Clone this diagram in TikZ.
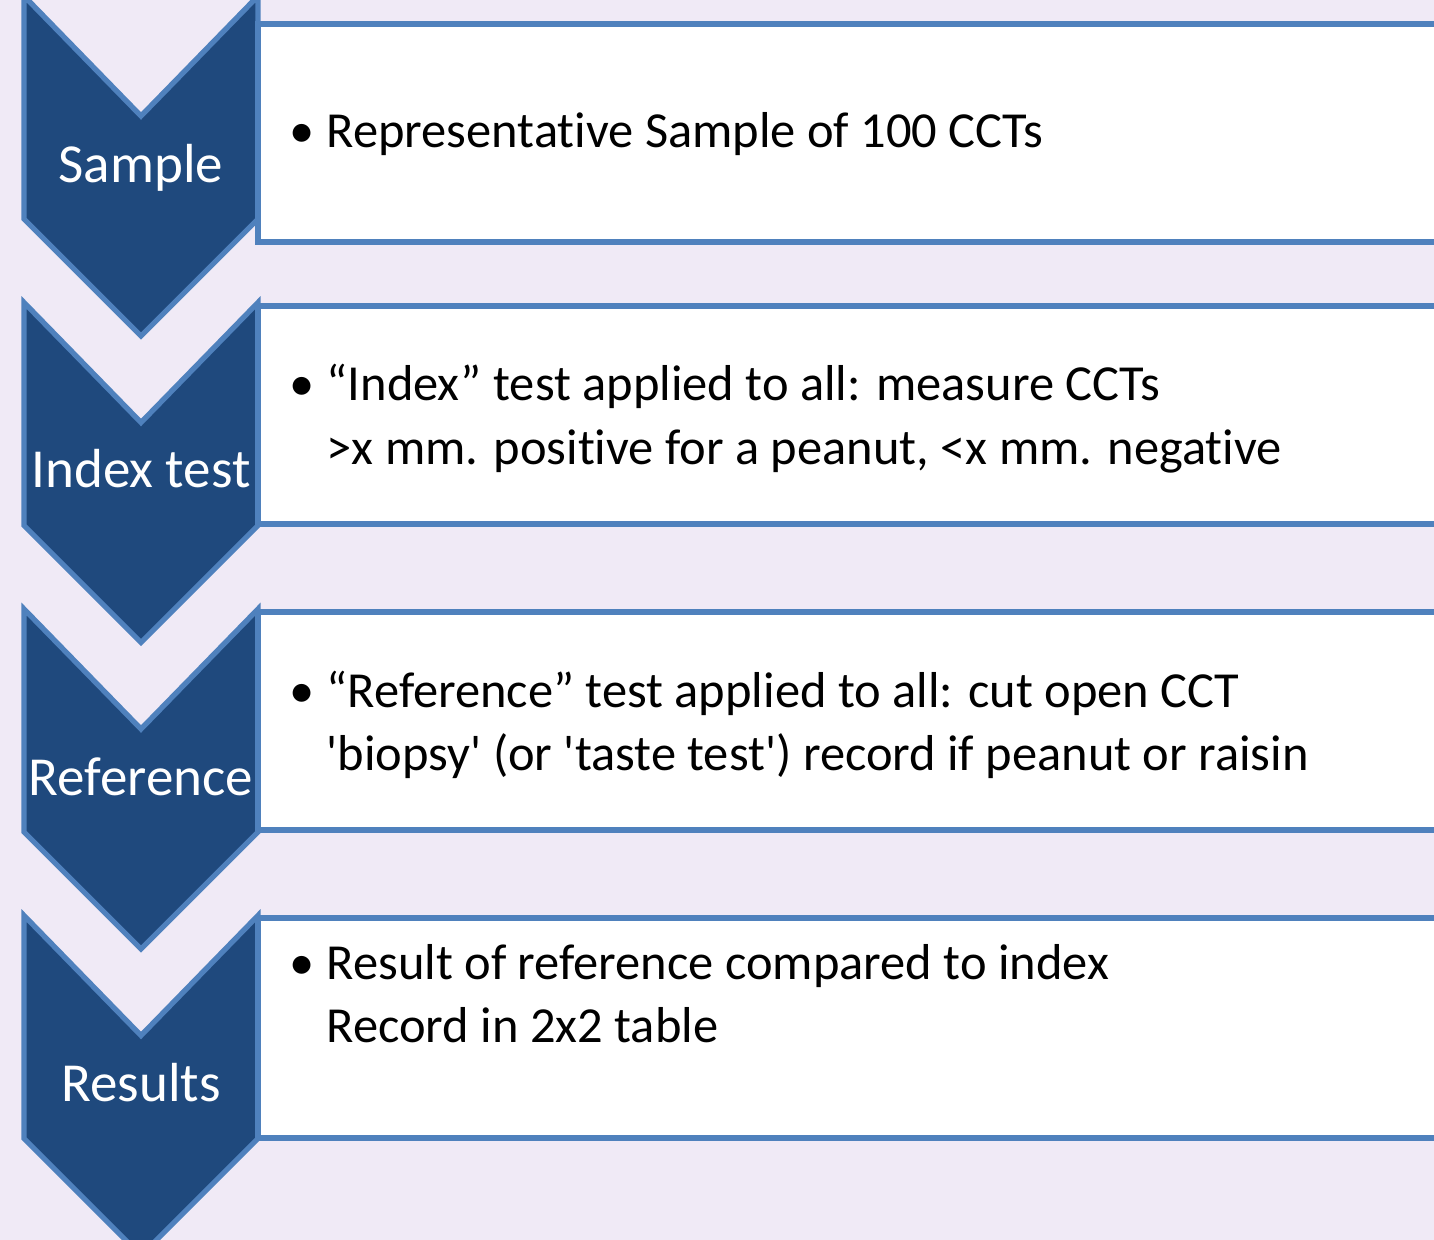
\documentclass[tikz,border=0pt]{standalone}
\usepackage{fontspec}
\setmainfont{Carlito}[Ligatures={TeX,NoCommon}]
\definecolor{bgpurple}{RGB}{240,234,246}
\definecolor{chevfill}{RGB}{31,73,125}
\definecolor{chevline}{RGB}{79,129,189}
\newcommand{\bodyfont}{\fontsize{14.35}{18.1}\selectfont}
\newcommand{\bul}{\makebox[0.37cm][l]{•}}
\newcommand{\bulpad}{\hspace*{0.37cm}}

\begin{document}
\begin{tikzpicture}[x=0.01cm,y=-0.01cm,
  chev/.style={fill=chevfill,draw=chevline,line width=1.5pt,line join=miter},
  stepbox/.style={fill=white,draw=chevline,line width=1.5pt},
  steplabel/.style={text=white,anchor=base,inner sep=0pt,font=\fontsize{15.65}{19}\selectfont},
  bullettext/.style={anchor=base west,inner sep=0pt,font=\bodyfont}]
\useasboundingbox (0,0) rectangle (1434,1240);
\clip (0,0) rectangle (1434,1240);
\fill[bgpurple] (0,0) rectangle (1434,1240);
% chevrons
\draw[chev] (24,-4) -- (141,116) -- (258,-4) -- (258,219) -- (141,336) -- (24,219) -- cycle;
\draw[chev] (24,302.5) -- (141,422.5) -- (258,302.5) -- (258,525.5) -- (141,642.5) -- (24,525.5) -- cycle;
\draw[chev] (24,609) -- (141,729) -- (258,609) -- (258,832) -- (141,949) -- (24,832) -- cycle;
\draw[chev] (24,915.5) -- (141,1035.5) -- (258,915.5) -- (258,1138.5) -- (141,1255.5) -- (24,1138.5) -- cycle;
\path (141,183) node(sample)[steplabel]{Sample}
(141,488) node(index)[steplabel]{Index test}
(141,795) node(reference)[steplabel]{Reference}
(141,1101.5) node(results)[steplabel]{Results};
% boxes
\filldraw[stepbox] (1450,24) -- (258,24) -- (258,242) -- (1450,242);
\filldraw[stepbox] (1450,306) -- (258,306) -- (258,524) -- (1450,524);
\filldraw[stepbox] (1450,612) -- (258,612) -- (258,830) -- (1450,830);
\filldraw[stepbox] (1450,918) -- (258,918) -- (258,1138) -- (1450,1138);
\path (289,148) node(t1)[bullettext]{\begin{tabular}[t]{@{}l@{}}\bul Representative Sample of 100 CCTs\end{tabular}}
(289,401) node(t2)[bullettext]{\begin{tabular}[t]{@{}l@{}}\bul “Index” test applied to all: measure CCTs\\
\bulpad >x mm. positive for a peanut, <x mm. negative\end{tabular}}
(289,707) node(t3)[bullettext]{\begin{tabular}[t]{@{}l@{}}\bul “Reference” test applied to all: cut open CCT\\
\bulpad \textquotesingle biopsy\textquotesingle{} (or \textquotesingle taste test\textquotesingle) record if peanut or raisin\end{tabular}}
(289,979) node(t4)[bullettext]{\begin{tabular}[t]{@{}l@{}}\bul Result of reference compared to index\\
\bulpad Record in 2x2 table\end{tabular}};
\end{tikzpicture}
\end{document}
